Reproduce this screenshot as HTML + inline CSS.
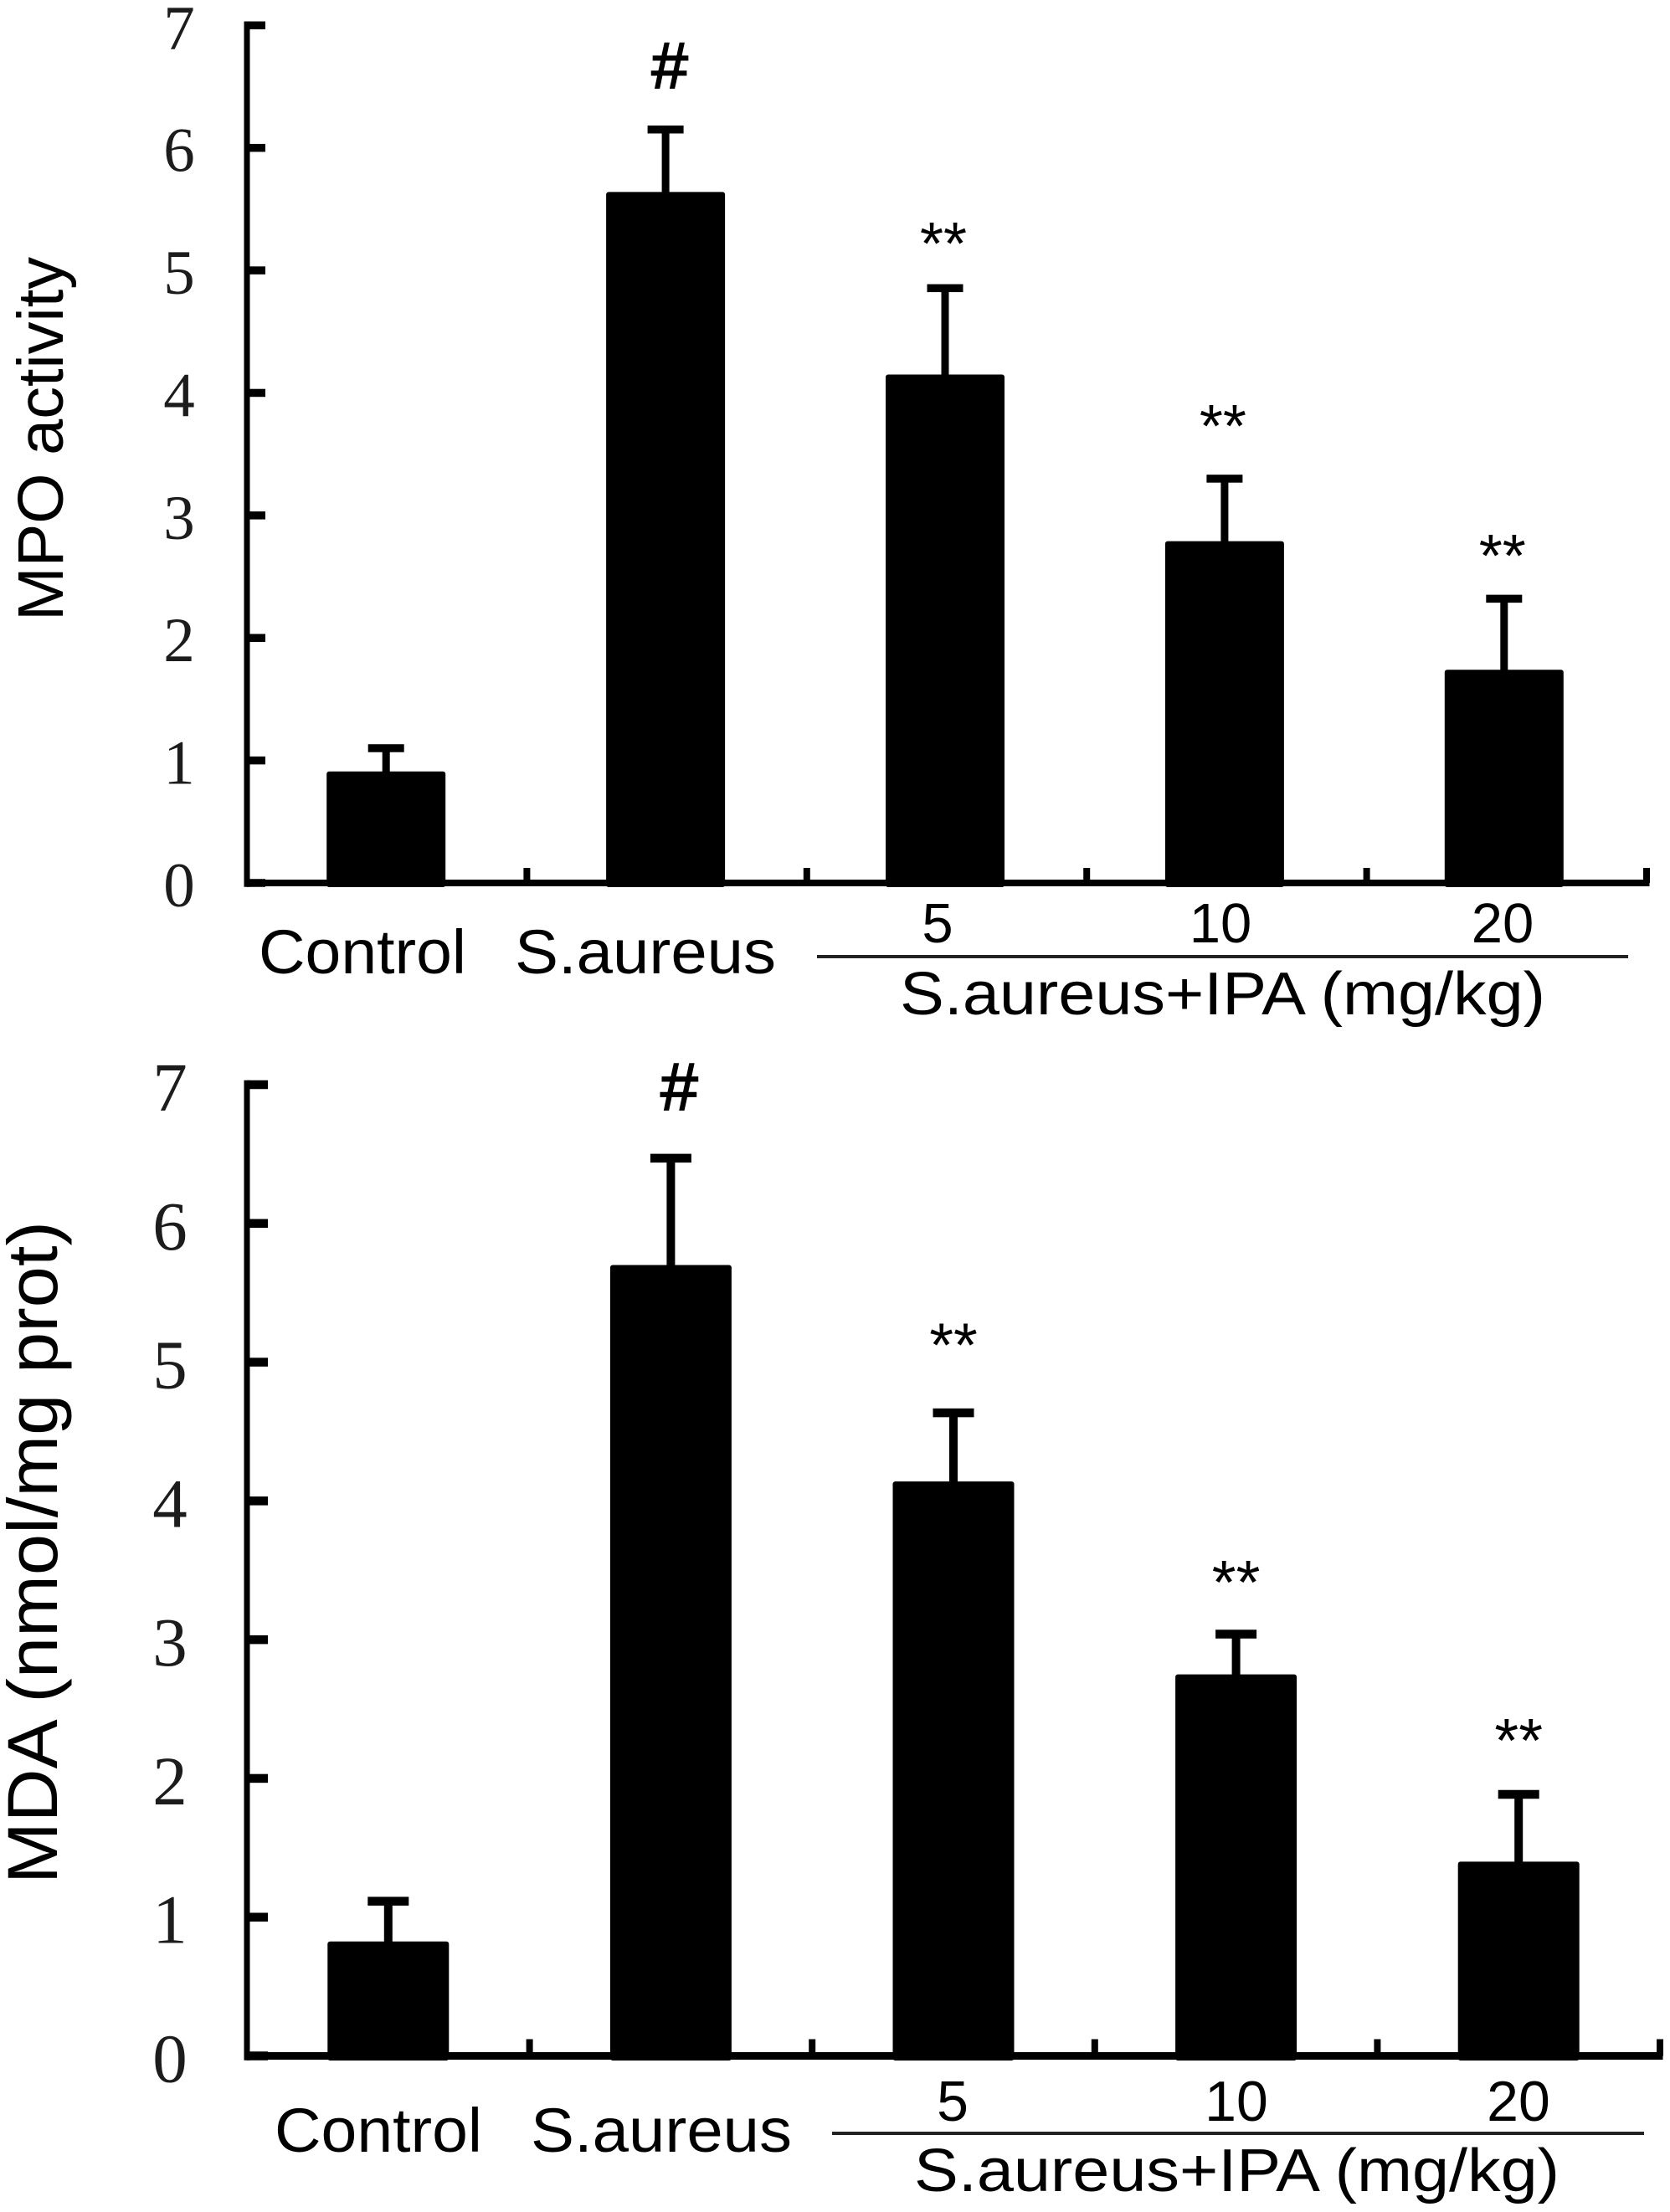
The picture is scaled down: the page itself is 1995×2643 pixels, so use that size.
<!DOCTYPE html>
<html lang="en">
<head>
<meta charset="utf-8">
<title>MPO activity and MDA bar charts</title>
<style>
html,body{margin:0;padding:0;background:#fff;}
svg{display:block;}
text{font-family:"Liberation Sans",sans-serif;fill:#000;}
.num{font-family:"Liberation Serif",serif;fill:#1c1c1c;}
</style>
</head>
<body>
<svg id="chart" xmlns="http://www.w3.org/2000/svg" width="1995" height="2643" viewBox="0 0 1995 2643">
  <rect x="0" y="0" width="1995" height="2643" fill="#fff"/>
  <g id="panel-mpo">
    <text transform="translate(75 742) rotate(-90)" font-size="77" textLength="435" lengthAdjust="spacingAndGlyphs">MPO activity</text>
    <text x="309" y="1163" font-size="74" textLength="248" lengthAdjust="spacingAndGlyphs">Control</text>
    <text x="615" y="1163" font-size="74" textLength="312" lengthAdjust="spacingAndGlyphs">S.aureus</text>
    <text x="1120" y="1126" font-size="67" text-anchor="middle">5</text>
    <text x="1458" y="1126" font-size="67" text-anchor="middle">10</text>
    <text x="1795" y="1126" font-size="67" text-anchor="middle">20</text>
    <line x1="976" y1="1143" x2="1945" y2="1143" stroke="#222" stroke-width="4"/>
    <text x="1075" y="1212" font-size="72" textLength="771" lengthAdjust="spacingAndGlyphs">S.aureus+IPA (mg/kg)</text>
  </g>
  <g id="panel-mda">
    <text transform="translate(68 2251) rotate(-90)" font-size="84" textLength="792" lengthAdjust="spacingAndGlyphs">MDA (nmol/mg prot)</text>
    <text x="328" y="2571" font-size="74" textLength="248" lengthAdjust="spacingAndGlyphs">Control</text>
    <text x="634" y="2571" font-size="74" textLength="312" lengthAdjust="spacingAndGlyphs">S.aureus</text>
    <text x="1138" y="2534" font-size="68" text-anchor="middle">5</text>
    <text x="1477" y="2534" font-size="68" text-anchor="middle">10</text>
    <text x="1814" y="2534" font-size="68" text-anchor="middle">20</text>
    <line x1="994" y1="2549" x2="1964" y2="2549" stroke="#222" stroke-width="4"/>
    <text x="1092" y="2618" font-size="72" textLength="771" lengthAdjust="spacingAndGlyphs">S.aureus+IPA (mg/kg)</text>
  </g>
</svg>
<script>
var categories = ['control', 's-aureus', 'ipa-5', 'ipa-10', 'ipa-20'];
var yTickLabels = ['0', '1', '2', '3', '4', '5', '6', '7'];
var mpoValues = [0.91, 5.64, 4.15, 2.79, 1.74];
var mpoErrors = [1.10, 6.15, 4.855, 3.30, 2.32];
var mpoMarks = ['', '#', '**', '**', '**'];
var mpoMarkLevels = [0, 6.49, 5.05, 3.56, 2.50];
var mdaValues = [0.825, 5.70, 4.14, 2.75, 1.40];
var mdaErrors = [1.115, 6.47, 4.635, 3.04, 1.885];
var mdaMarks = ['', '#', '**', '**', '**'];
var mdaMarkLevels = [0, 6.82, 4.97, 3.26, 2.12];

var NS = 'http://www.w3.org/2000/svg';

function make(parent, tag, attrs, content) {
  var el = document.createElementNS(NS, tag);
  for (var k in attrs) { el.setAttribute(k, attrs[k]); }
  if (content !== undefined) { el.textContent = content; }
  parent.appendChild(el);
  return el;
}

function drawPanel(o) {
  var g = document.getElementById(o.id);
  var yMax = yTickLabels.length - 1;
  function yScale(v) { return o.y0 - (o.y0 - o.yTop) * v / yMax; }
  function xEdge(i) { return o.x0 + (o.x1 - o.x0) * i / categories.length; }
  function xCenter(i) { return (xEdge(i) + xEdge(i + 1)) / 2 + o.barShift * i / 4 + o.barShift / 2; }
  var el;

  yTickLabels.forEach(function (label, i) {
    var ty = yScale(Number(label));
    el = make(g, 'rect', {x: o.x0, y: ty - o.tickThick / 2, width: o.tickLen, height: o.tickThick, fill: '#000'});
    
    
    el = make(g, 'text', {x: o.labelX, y: ty + o.labelDrop, 'font-size': o.numSize, 'text-anchor': 'middle', 'class': 'num'}, label);
    
    
  });

  for (var t = 1; t <= categories.length; t++) {
    el = make(g, 'rect', {x: xEdge(t) - 4, y: yScale(0) - o.xTickLen, width: 8, height: o.xTickLen, fill: '#000'});
    
    
  }

  el = make(g, 'rect', {x: o.x0 - 3.5, y: yScale(yMax) - o.tickThick / 2, width: 7, height: yScale(0) - yScale(yMax) + o.tickThick, fill: '#000'});
  
  

  el = make(g, 'rect', {x: o.x0 - 3.5, y: yScale(0) - o.axisThick / 2, width: o.x1 - o.x0 + 7, height: o.axisThick, fill: '#000'});
  
  

  categories.forEach(function (name, i) {
    var cx = xCenter(i);
    var top = yScale(o.values[i]);
    var capY = yScale(o.errors[i]);

    el = make(g, 'rect', {x: cx - o.stem / 2, y: capY, width: o.stem, height: top - capY + 2, fill: '#000'});
    
    

    el = make(g, 'rect', {x: cx - o.capWidth / 2, y: capY - o.capThick / 2, width: o.capWidth, height: o.capThick, fill: '#000'});
    
    

    el = make(g, 'rect', {x: cx - o.barWidth / 2, y: top, width: o.barWidth, height: yScale(0) - top + o.axisThick / 2 + 1, rx: 3, ry: 3, fill: '#000'});
    
    

    if (o.marks[i]) {
      var isHash = o.marks[i] === '#';
      el = make(g, 'text', {x: cx + o.markShift[isHash ? 0 : 1], y: yScale(o.markLevels[i]), 'font-size': isHash ? o.hashSize : o.markSize, 'text-anchor': 'middle', stroke: isHash ? '#000' : 'none', 'stroke-width': isHash ? 2 : 0}, o.marks[i]);
      
      
    }
  });
}

drawPanel({
  id: 'panel-mpo', key: 'mpo', values: mpoValues, errors: mpoErrors, marks: mpoMarks, markLevels: mpoMarkLevels,
  x0: 295, x1: 1967, y0: 1055, yTop: 30.3, barShift: -2, barWidth: 142, stem: 9, capWidth: 43, capThick: 9.5,
  tickLen: 22, tickThick: 9.5, xTickLen: 18, axisThick: 8, labelX: 214, labelDrop: 28, numSize: 75,
  markSize: 72, hashSize: 78, markShift: [5, -2]
});
drawPanel({
  id: 'panel-mda', key: 'mda', values: mdaValues, errors: mdaErrors, marks: mdaMarks, markLevels: mdaMarkLevels,
  x0: 295, x1: 1983, y0: 2456.5, yTop: 1296, barShift: 0, barWidth: 145, stem: 10, capWidth: 49, capThick: 10.5,
  tickLen: 25, tickThick: 10.5, xTickLen: 20, axisThick: 9, labelX: 203, labelDrop: 31, numSize: 83,
  markSize: 74, hashSize: 80, markShift: [10, 0]
});
</script>
</body>
</html>
